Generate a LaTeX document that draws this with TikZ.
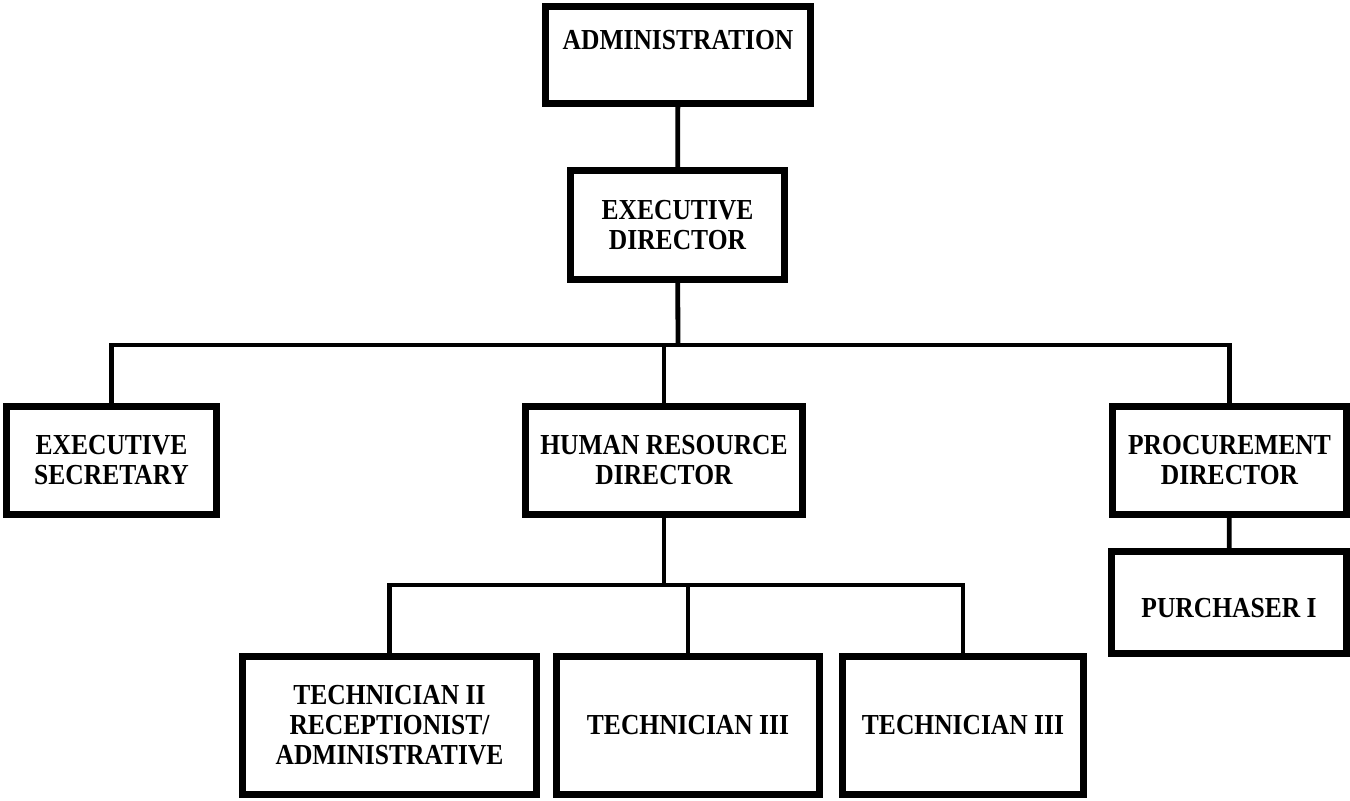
\documentclass[tikz,border=0pt]{standalone}
\usepackage{fontspec}
\setmainfont[FakeStretch=0.88]{Liberation Serif}
\begin{document}
\begin{tikzpicture}[x=0.5pt,y=-0.5pt,
  orgbox/.style={draw,line width=3.5pt,inner sep=0pt,align=center,
    font=\bfseries\fontsize{14.5}{15}\selectfont},
  link/.style={line width=2.4pt}]
\useasboundingbox[fill=white] (0,0) rectangle (1350,801);
% top of the chart
\node[orgbox,minimum width=132.5pt,minimum height=48.5pt] (admin) at (678,55) {ADMINISTRATION\\\mbox{}};
\node[orgbox,minimum width=107pt,minimum height=54.5pt] (ed) at (677.5,225) {EXECUTIVE\\DIRECTOR};
% second row
\node[orgbox,minimum width=105pt,minimum height=54pt] (es) at (111.5,460.5) {EXECUTIVE\\SECRETARY};
\node[orgbox,minimum width=138.5pt,minimum height=54pt] (hr) at (664,460.5) {HUMAN RESOURCE\\DIRECTOR};
\node[orgbox,minimum width=117pt,minimum height=54pt] (pd) at (1229.5,460.5) {PROCUREMENT\\DIRECTOR};
\node[orgbox,minimum width=117.5pt,minimum height=51pt] (pur) at (1229,602.5) {\mbox{}\\PURCHASER I};
% third row
\node[orgbox,minimum width=147pt,minimum height=69pt] (tech2) at (389.5,725.5) {TECHNICIAN II\\RECEPTIONIST/\\ADMINISTRATIVE};
\node[orgbox,minimum width=131.5pt,minimum height=69pt] (tech3a) at (688,725.5) {TECHNICIAN III};
\node[orgbox,minimum width=120.5pt,minimum height=69pt] (tech3b) at (963,725.5) {TECHNICIAN III};
% connectors
\coordinate (bus) at (678,345);
\coordinate (hrbus) at (664,585);
\draw[link] (admin) -- (ed);
\draw[link] (ed) -- (bus);
\draw[link] (es.north) -- (es.north |- bus) -- (pd.north |- bus) -- (pd.north);
\draw[link] (hr.north) -- (hr.north |- bus);
\draw[link] (pd) -- (pur);
\draw[link] (hr) -- (hrbus);
\draw[link] (tech2.north) -- (tech2.north |- hrbus) -- (tech3b.north |- hrbus) -- (tech3b.north);
\draw[link] (tech3a.north) -- (tech3a.north |- hrbus);
\end{tikzpicture}
\end{document}
